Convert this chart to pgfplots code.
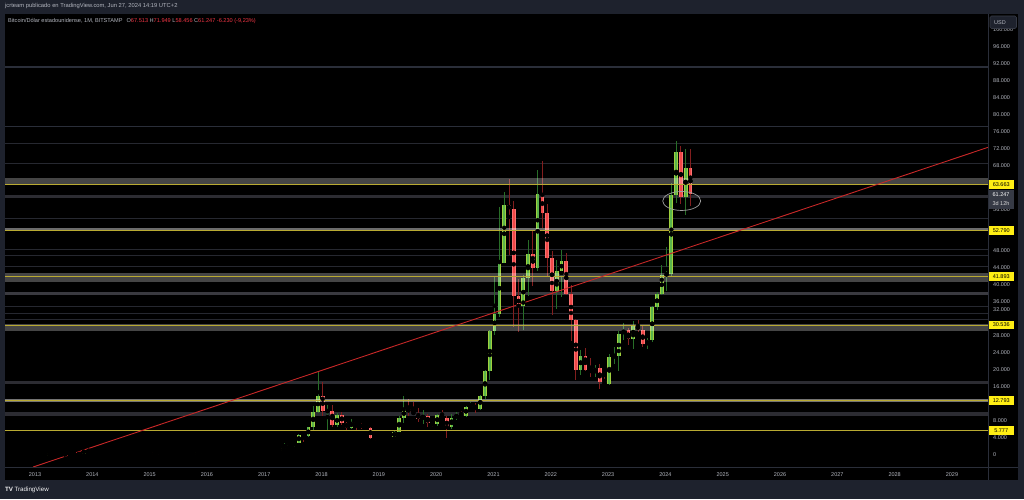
\documentclass[border=0pt]{standalone}
\usepackage{fontspec}
\setmainfont{Liberation Sans}
\usepackage{pgfplots}
\usepackage{pgfplotstable}
\pgfplotsset{compat=1.18}
\definecolor{frame}{RGB}{30,34,45}
\definecolor{txt}{RGB}{178,181,190}
\definecolor{redtxt}{RGB}{242,54,69}
\definecolor{gout}{RGB}{160,208,62}
\definecolor{gin}{RGB}{90,180,75}
\definecolor{rout}{RGB}{250,115,115}
\definecolor{rin}{RGB}{240,72,72}
\definecolor{gwick}{RGB}{40,110,40}
\definecolor{rwick}{RGB}{130,30,30}
\definecolor{trend}{RGB}{200,40,40}
\definecolor{lvl}{RGB}{185,170,50}
\definecolor{thinl}{RGB}{38,40,48}
\definecolor{darkband}{RGB}{44,44,50}
\definecolor{midband}{RGB}{58,58,64}
\definecolor{pricey}{RGB}{255,238,20}
\definecolor{sep}{RGB}{42,46,57}
\definecolor{curbox}{RGB}{54,58,69}

\pgfplotstableread{
yr m o h l c
2012 7 6.7 9.7 6.6 9.3
2012 8 9.3 16 7.1 10.2
2012 9 10.2 12.9 10.1 12.4
2012 11 11.2 12.8 10.6 12.6
2012 12 12.6 13.9 12.2 13.5
2013 1 13.5 21 13.4 20.4
2013 2 20.4 33.9 19.6 33.4
2013 3 33.4 95 33.1 93
2013 4 93 266 50 139
2013 7 97 112 65 106
2013 8 106 141 102 141
2013 10 133 214 101 204
2013 11 204 1163 203 1129
2014 1 732 1000 730 803
2014 5 447 623 420 623
2014 6 623 680 540 635
2014 11 338 458 310 378
2015 2 217 265 212 254
2015 6 230 267 220 263
2015 7 263 318 253 284
2015 9 230 249 225 236
2015 10 236 338 236 314
2015 11 314 495 301 377
2015 12 377 465 349 430
2016 2 368 447 362 437
2016 4 416 467 412 448
2016 5 448 548 436 531
2016 6 531 780 524 673
2016 9 575 619 575 609
2016 10 609 720 603 698
2016 11 698 754 681 742
2016 12 742 975 741 964
2017 1 964 1150 755 970
2017 2 970 1200 919 1190
2017 4 1080 1364 1060 1348
2017 5 1348 2760 1348 2300
2017 6 2300 2990 2100 2480
2017 7 2480 2930 1830 2870
2017 8 2870 4760 2670 4735
2017 10 4340 6470 4110 6450
2017 11 6450 11400 5500 10000
2017 12 10000 19666 9700 13850
2018 2 10220 11800 5900 10320
2018 4 6925 9760 6440 9240
2018 7 6390 8500 6000 7730
2019 2 3460 4200 3400 3820
2019 3 3820 4100 3770 4100
2019 4 4100 5600 4100 5320
2019 5 5320 9100 5320 8550
2019 6 8550 13880 7460 10830
2019 10 8300 10540 7300 9150
2020 1 7190 9580 6860 9340
2020 4 6410 9470 6150 8630
2020 5 8630 10070 8100 9450
2020 7 9140 11440 8950 11330
2020 8 11330 12460 10930 11650
2020 10 10780 14100 10540 13800
2020 11 13800 19860 13200 19700
2020 12 19700 29300 17600 28990
2021 1 28990 41950 28130 33100
2021 2 33100 58350 32300 45200
2021 3 45200 61780 45000 58800
2021 7 35040 42300 29300 41460
2021 8 41460 50500 37300 47130
2021 10 43820 67000 43300 61300
2022 2 38500 45800 34300 43200
2022 3 43200 48200 37200 45500
2022 7 19900 24600 18800 23300
2022 10 19400 21000 18200 20500
2023 1 16550 23800 16500 23100
2023 2 23100 25250 21400 23150
2023 3 23150 29200 19600 28450
2023 4 28450 31000 26900 29250
2023 6 27200 31400 24800 30470
2023 9 25940 27500 24900 26970
2023 10 26970 35000 26550 34660
2023 11 34660 38400 34100 37720
2023 12 37720 44700 37600 42270
2024 1 42270 48900 38500 42580
2024 2 42580 64000 41900 61130
2024 3 61130 73800 59300 71280
2024 5 60630 71900 56500 67500
}\upcandles

\pgfplotstableread{
yr m o h l c
2012 10 12.4 12.9 9.8 11.2
2013 5 139 140 79 129
2013 6 129 130 88 97
2013 9 141 150 108 133
2013 12 1129 1163 400 732
2014 2 803 841 400 549
2014 3 549 700 440 457
2014 4 457 545 340 447
2014 7 635 650 565 580
2014 8 580 600 420 478
2014 9 478 495 360 388
2014 10 388 415 275 338
2014 12 378 385 310 320
2015 1 320 320 152 217
2015 3 254 301 235 244
2015 4 244 262 214 236
2015 5 236 248 226 230
2015 8 284 285 199 230
2016 1 430 464 354 368
2016 3 437 439 406 416
2016 7 673 705 474 624
2016 8 624 625 535 575
2017 3 1190 1290 891 1080
2017 9 4735 4980 2970 4340
2018 1 13850 17200 9100 10220
2018 3 10320 11700 6550 6925
2018 5 9240 10000 7040 7500
2018 6 7500 7770 5750 6390
2018 8 7730 7760 5880 7000
2018 9 7000 7400 6100 6630
2018 10 6630 7100 6180 6370
2018 11 6370 6570 3650 4040
2018 12 4040 4400 3150 3740
2019 1 3740 4100 3350 3460
2019 7 10830 13150 9070 10080
2019 8 10080 12330 9350 9600
2019 9 9600 10950 7700 8300
2019 11 9150 9500 6500 7550
2019 12 7550 7750 6430 7190
2020 2 9340 10500 8450 8530
2020 3 8530 9190 3850 6410
2020 6 9450 10380 8900 9140
2020 9 11650 12070 9880 10780
2021 4 58800 64900 47000 57700
2021 5 57700 59600 30000 37300
2021 6 37300 41300 28800 35040
2021 9 47130 52900 39600 43820
2021 11 61300 69000 53300 56900
2021 12 56900 59100 42000 46200
2022 1 46200 47900 32900 38500
2022 4 45500 47400 37600 37700
2022 5 37700 40000 26700 31800
2022 6 31800 31900 17600 19900
2022 8 23300 25200 19600 20000
2022 9 20000 22800 18200 19400
2022 11 20500 21400 15500 17150
2022 12 17150 18400 16300 16550
2023 5 29250 29800 25800 27200
2023 7 30470 31800 28900 29230
2023 8 29230 30200 25400 25940
2024 4 71280 72700 59100 60630
2024 6 67500 71949 58456 61247
}\downcandles

\def\xa{2012.4765}
\def\xb{2029.629}
\newcommand{\hl}[3]{\addplot[#1, line width=#2, forget plot] coordinates {(2012.4765,#3) (2029.629,#3)};}
\newcommand{\band}[3]{\addplot[#1, draw=none, forget plot] coordinates {(2012.4765,#2) (2029.629,#2) (2029.629,#3) (2012.4765,#3)} -- cycle;}
\newcommand{\fs}{\fontsize{5.5}{6.6}\selectfont}

\begin{document}
\begin{tikzpicture}
\begin{scope}[x=1pt,y=1pt]
\path[use as bounding box] (0,0) rectangle (1024,499);
\fill[frame] (0,0) rectangle (1024,499);
\fill[black] (5,19) rectangle (1018,485);
\end{scope}

\begin{axis}[
 at={(5pt,32pt)}, anchor=south west, scale only axis,
 width=983pt, height=453pt,
 xmin=\xa, xmax=\xb, ymin=-2894, ymax=103694,
 axis line style={draw=none},
 major tick length=0pt,
 xtick={2013,2014,2015,2016,2017,2018,2019,2020,2021,2022,2023,2024,2025,2026,2027,2028,2029},
 xticklabels={2013,2014,2015,2016,2017,2018,2019,2020,2021,2022,2023,2024,2025,2026,2027,2028,2029},
 ytick={0,4000,8000,12000,16000,20000,24000,28000,32000,36000,40000,44000,48000,52000,56000,60000,64000,68000,72000,76000,80000,84000,88000,92000,96000,100000},
 yticklabels={0,4.000,8.000,,16.000,20.000,24.000,28.000,,36.000,40.000,44.000,48.000,,,,,68.000,72.000,76.000,80.000,84.000,88.000,92.000,96.000,100.000},
 yticklabel pos=right,
 ticklabel style={font=\fs, text=txt, inner sep=0pt},
 yticklabel style={anchor=west, xshift=5pt},
 xticklabel style={anchor=base, yshift=-9.5pt},
 scaled y ticks=false,
 clip mode=global,
]
% dark lines and bands under candles
\hl{sep}{1.8pt}{91200}
\hl{sep}{1.8pt}{77200}
\hl{thinl}{1pt}{73300}
\hl{thinl}{1pt}{68600}
\band{fill=darkband}{60300}{61100}
\hl{thinl}{1pt}{55600}
\hl{thinl}{1pt}{48400}
\hl{thinl}{1pt}{46800}
\hl{thinl}{1pt}{44200}
\band{fill=midband}{37600}{38400}
\hl{thinl}{1pt}{34800}
\hl{thinl}{1pt}{33300}
\hl{thinl}{1pt}{31700}
\band{fill=darkband}{16600}{17400}
\band{fill=darkband}{9200}{10100}

% wicks
\addplot[only marks, mark=none, error bars/.cd, y dir=both, y explicit, error mark=none,
  error bar style={draw=gwick, line width=0.8pt}]
  table[x expr={\thisrow{yr}+(\thisrow{m}-1)/12+0.02}, y expr={(\thisrow{h}+\thisrow{l})/2},
        y error expr={max((\thisrow{h}-\thisrow{l})/2,200)}] {\upcandles};
\addplot[only marks, mark=none, error bars/.cd, y dir=both, y explicit, error mark=none,
  error bar style={draw=rwick, line width=0.8pt}]
  table[x expr={\thisrow{yr}+(\thisrow{m}-1)/12+0.02}, y expr={(\thisrow{h}+\thisrow{l})/2},
        y error expr={max((\thisrow{h}-\thisrow{l})/2,200)}] {\downcandles};
% bodies
\addplot[only marks, mark=none, error bars/.cd, y dir=both, y explicit, error mark=none,
  error bar style={draw=gout, line width=3.7pt}]
  table[x expr={\thisrow{yr}+(\thisrow{m}-1)/12+0.02}, y expr={(\thisrow{o}+\thisrow{c})/2},
        y error expr={max(abs(\thisrow{c}-\thisrow{o})/2,260)}] {\upcandles};
\addplot[only marks, mark=none, error bars/.cd, y dir=both, y explicit, error mark=none,
  error bar style={draw=gin, line width=1.9pt}]
  table[x expr={\thisrow{yr}+(\thisrow{m}-1)/12+0.02}, y expr={(\thisrow{o}+\thisrow{c})/2},
        y error expr={max(abs(\thisrow{c}-\thisrow{o})/2,260)}] {\upcandles};
\addplot[only marks, mark=none, error bars/.cd, y dir=both, y explicit, error mark=none,
  error bar style={draw=rout, line width=3.7pt}]
  table[x expr={\thisrow{yr}+(\thisrow{m}-1)/12+0.02}, y expr={(\thisrow{o}+\thisrow{c})/2},
        y error expr={max(abs(\thisrow{c}-\thisrow{o})/2,260)}] {\downcandles};
\addplot[only marks, mark=none, error bars/.cd, y dir=both, y explicit, error mark=none,
  error bar style={draw=rin, line width=1.9pt}]
  table[x expr={\thisrow{yr}+(\thisrow{m}-1)/12+0.02}, y expr={(\thisrow{o}+\thisrow{c})/2},
        y error expr={max(abs(\thisrow{c}-\thisrow{o})/2,260)}] {\downcandles};

% bright bands (semi-transparent) with yellow levels
\band{fill=white, fill opacity=0.27}{63460}{65040}
\hl{lvl}{0.6pt}{63663}
\band{fill=white, fill opacity=0.42}{52600}{53400}
\hl{lvl}{0.6pt}{52790}
\band{fill=white, fill opacity=0.27}{40560}{42800}
\hl{lvl}{0.6pt}{41893}
\band{fill=white, fill opacity=0.27}{29200}{30700}
\hl{lvl}{0.6pt}{30536}
\band{fill=white, fill opacity=0.45}{12450}{13050}
\hl{lvl}{0.6pt}{12793}
\hl{lvl}{0.6pt}{5777}

% trend line
\addplot[trend, line width=0.9pt] coordinates {(2012.967,-2894) (2029.629,72322)};

% hand-drawn ellipse
\draw[gray!75, line width=0.7pt] (axis cs:2024.284,59700) ellipse [x radius=19pt, y radius=9.5pt];
\end{axis}

\begin{scope}[x=1pt,y=1pt]
% separators
\draw[sep, line width=1pt] (5,32) -- (1018,32);
\draw[sep, line width=1pt] (988,19) -- (988,485);
% shifted price-scale labels (as in the reference)
\node[text=txt, font=\fs, anchor=west, inner sep=0pt] at (993,{499-209.5}) {56.000};
\node[text=txt, font=\fs, anchor=west, inner sep=0pt] at (993,{499-310}) {32.000};
% price labels
\newcommand{\plab}[2]{\node[fill=pricey, text=black, inner sep=0pt, minimum width=25pt, minimum height=8.6pt, anchor=west, font=\fs] at (988.5,{499-#1}) {#2};}
\plab{184.4}{63.663}
\plab{230.3}{52.790}
\plab{276.7}{41.893}
\plab{324.9}{30.536}
\plab{400.3}{12.793}
\plab{430.2}{5.777}
\fill[curbox] (988.5,{499-208.5}) rectangle (1013.5,{499-189.5});
\node[text=white, font=\fs, inner sep=0pt] at (1001,{499-194.8}) {61.247};
\node[text=white!85!black, font=\fs, inner sep=0pt] at (1001,{499-203.2}) {3d 12h};
% USD box
\draw[fill=frame, draw=curbox, rounded corners=1.5pt, line width=0.6pt] (990,{499-28.5}) rectangle (1016.5,{499-16});
\node[text=txt, font=\fs, anchor=west, inner sep=0pt] at (994,{499-22.3}) {USD};
% header texts
\node[text=txt, font=\fontsize{5.8}{7}\selectfont, anchor=west, inner sep=0pt] at (5,{499-6}) {jcrteam publicado en TradingView.com, Jun 27, 2024 14:19 UTC+2};
\node[text=txt, font=\fontsize{5.6}{7}\selectfont, anchor=west, inner sep=0pt] at (8,{499-20.7}) {Bitcoin/Dólar estadounidense, 1M, BITSTAMP\hspace{4pt}O\textcolor{redtxt}{67.513} H\textcolor{redtxt}{71.949} L\textcolor{redtxt}{58.456} C\textcolor{redtxt}{61.247} \textcolor{redtxt}{-6.230 (-9,23\%)}};
% logo
\node[text=white!85!txt, font=\fontsize{6.2}{7}\selectfont, anchor=west, inner sep=0pt] at (5,{499-490}) {\textbf{TV}\hspace{1.5pt}TradingView};
\end{scope}
\end{tikzpicture}
\end{document}
